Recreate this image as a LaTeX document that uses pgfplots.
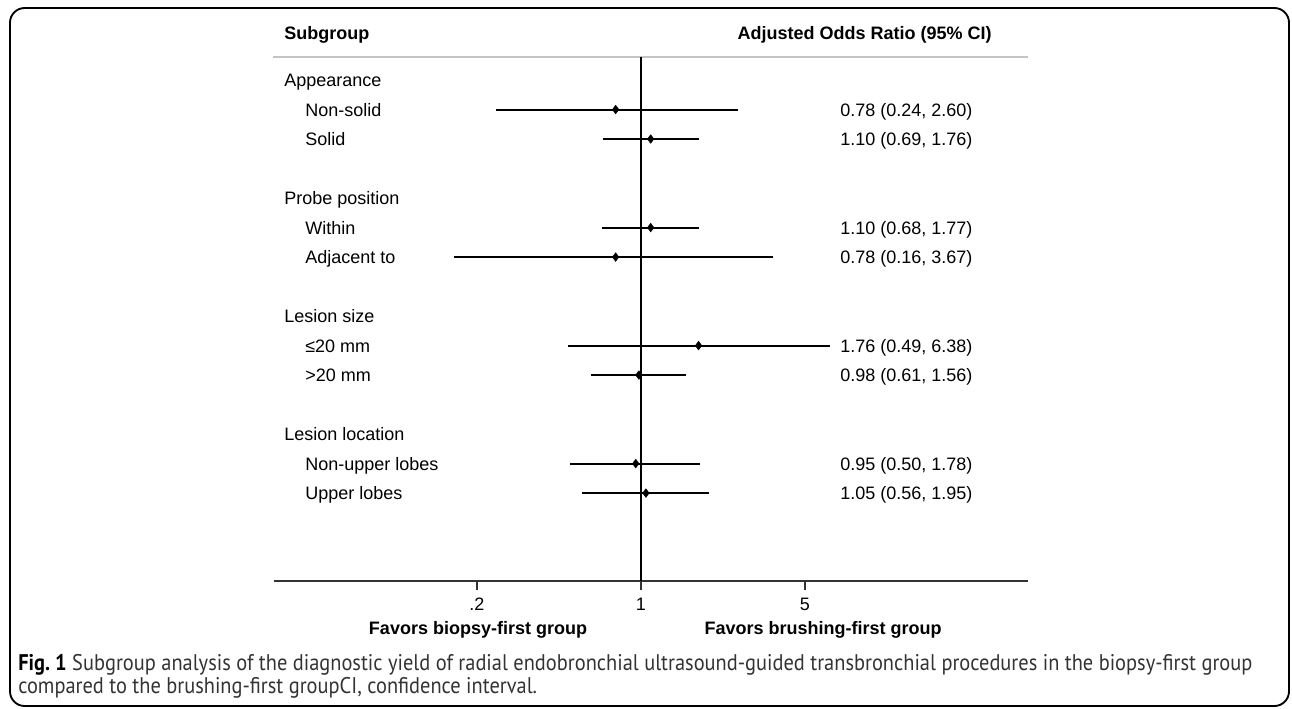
\documentclass[border=0pt]{standalone}
\usepackage{pgfplots}
\pgfplotsset{compat=1.18}
\usepackage{fontspec}
\setmainfont{Liberation Sans}
\newfontfamily\capfont[FakeStretch=0.9]{PT Sans}
\definecolor{capgray}{HTML}{333333}
\definecolor{hdrgray}{HTML}{C4C4C4}
\newcommand{\tf}{\fontsize{13.5}{16}\selectfont}
\begin{document}
\begin{tikzpicture}
\begin{scope}[x=0.75pt,y=-0.75pt]
\useasboundingbox (0,0) rectangle (1292,708);
\draw[line width=1.4pt, rounded corners=11pt] (10,8) rectangle (1289,706);
% header
\node[anchor=base west, inner sep=0pt, font=\tf\bfseries] at (284,39.5) {Subgroup};
\node[anchor=base east, inner sep=0pt, font=\tf\bfseries] at (992,39.5) {Adjusted Odds Ratio (95\% CI)};
\draw[hdrgray, line width=1.1pt] (273,57) -- (1028,57);
% row labels
\foreach \t/\y in {Appearance/80, Probe position/198, Lesion size/316, Lesion location/434}
  \node[anchor=base west, inner sep=0pt, font=\tf] at (284,\y+6.5) {\t};
\foreach \t/\y in {Non-solid/109.5, Solid/139, Within/227.5, Adjacent to/257, {≤20 mm}/345.5, {>20 mm}/375, Non-upper lobes/463.5, Upper lobes/493}
  \node[anchor=base west, inner sep=0pt, font=\tf] at (305,\y+6.5) {\t};
\foreach \t/\y in {{0.78 (0.24, 2.60)}/109.5, {1.10 (0.69, 1.76)}/139, {1.10 (0.68, 1.77)}/227.5, {0.78 (0.16, 3.67)}/257, {1.76 (0.49, 6.38)}/345.5, {0.98 (0.61, 1.56)}/375, {0.95 (0.50, 1.78)}/463.5, {1.05 (0.56, 1.95)}/493}
  \node[anchor=base west, inner sep=0pt, font=\tf] at (840,\y+6.5) {\t};
% bottom titles
\node[anchor=base, inner sep=0pt, font=\tf\bfseries] at (478,634) {Favors biopsy-first group};
\node[anchor=base, inner sep=0pt, font=\tf\bfseries] at (823,634) {Favors brushing-first group};
% caption
\node[anchor=base west, inner sep=0pt, font=\fontsize{17}{20}\capfont, text=capgray] at (18,670) {{\bfseries\color{black}Fig.~1} Subgroup analysis of the diagnostic yield of radial endobronchial ultrasound-guided transbronchial procedures in the biopsy-first group};
\node[anchor=base west, inner sep=0pt, font=\fontsize{17}{20}\capfont, text=capgray] at (18,693) {compared to the brushing-first groupCI, confidence interval.};
\end{scope}
\begin{axis}[
  at={(205.5pt,-435.75pt)}, anchor=south west,
  scale only axis, width=565.5pt, height=393pt,
  xmode=log, xmin=0.0273, xmax=44.6,
  ymin=-0.78, ymax=16.98, y dir=reverse,
  axis x line*=bottom, axis y line=none,
  x axis line style={-, line width=1.2pt, draw=black!80},
  xtick={0.2,1,5}, xticklabels={.2,1,5},
  xminorticks=false, ytick=\empty,
  tick align=outside, major tick length=6.75pt,
  xtick style={line width=1.1pt, draw=black!80},
  xticklabel style={font=\tf, yshift=-2.5pt},
  clip=false,
]
\addplot[black, line width=1.2pt] coordinates {(1,-0.78) (1,16.98)};
\addplot[black, line width=1.5pt] coordinates {(0.24,1) (2.60,1)};
\addplot[black, line width=1.5pt] coordinates {(0.69,2) (1.76,2)};
\addplot[black, line width=1.5pt] coordinates {(0.68,5) (1.77,5)};
\addplot[black, line width=1.5pt] coordinates {(0.16,6) (3.67,6)};
\addplot[black, line width=1.5pt] coordinates {(0.49,9) (6.38,9)};
\addplot[black, line width=1.5pt] coordinates {(0.61,10) (1.56,10)};
\addplot[black, line width=1.5pt] coordinates {(0.50,13) (1.78,13)};
\addplot[black, line width=1.5pt] coordinates {(0.56,14) (1.95,14)};
\addplot[only marks, mark=diamond*, mark size=3.2pt, black] coordinates {(0.78,1) (1.10,2) (1.10,5) (0.78,6) (1.76,9) (0.98,10) (0.95,13) (1.05,14)};
\end{axis}
\end{tikzpicture}
\end{document}
